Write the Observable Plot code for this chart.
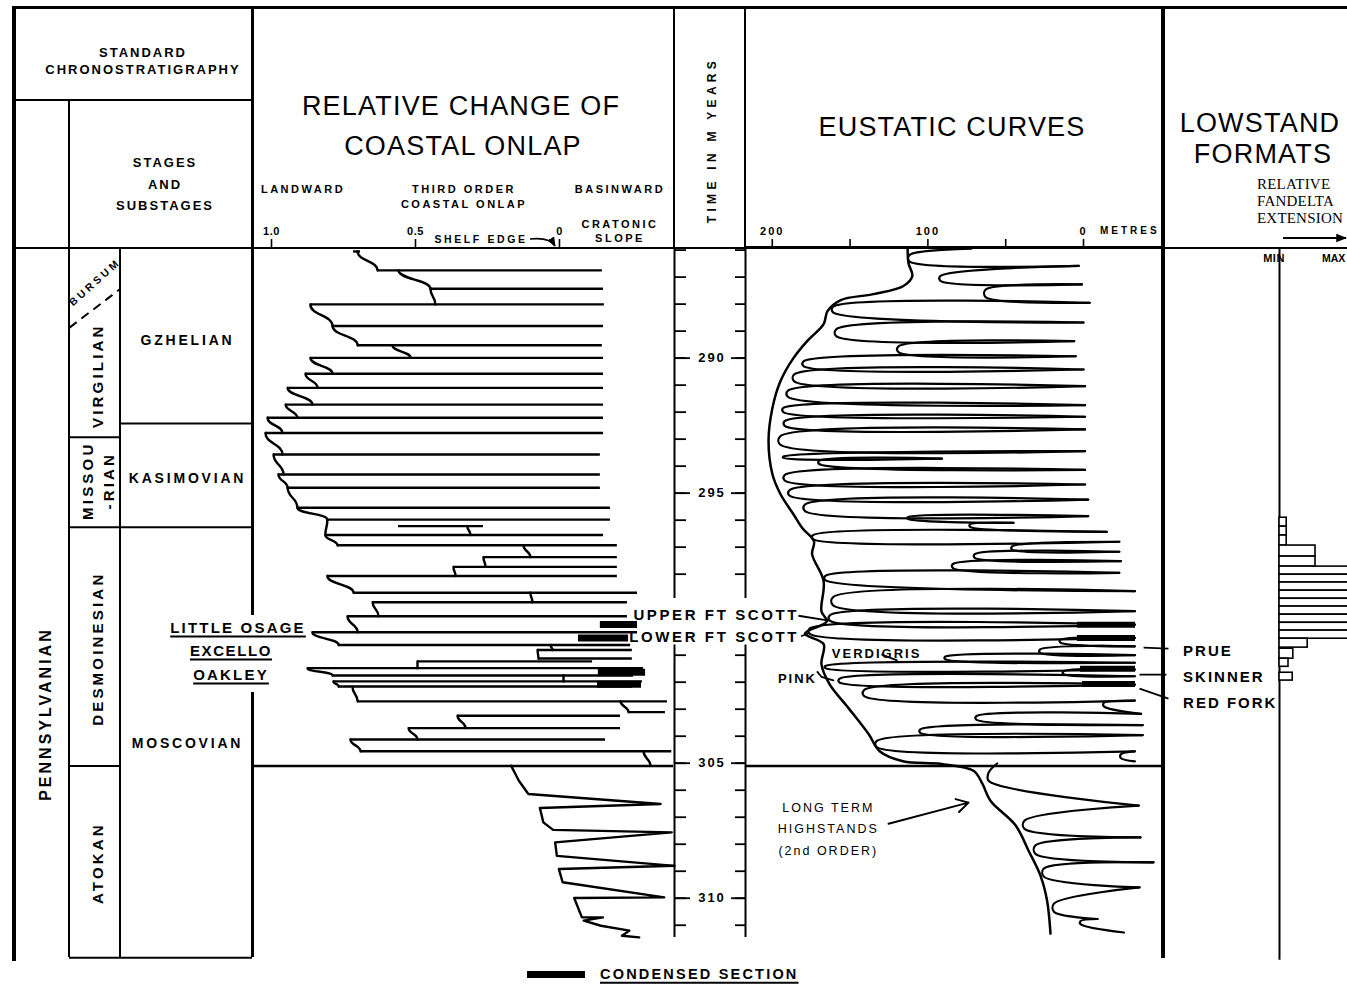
<!DOCTYPE html>
<html>
<head>
<meta charset="utf-8">
<script src="https://cdn.jsdelivr.net/npm/d3@7"></script>
<script src="https://cdn.jsdelivr.net/npm/@observablehq/plot@0.6"></script>
<style>
  html, body { margin: 0; padding: 0; background: #fff; overflow: hidden; }
  #chart { position: relative; width: 1347px; height: 985px; overflow: hidden; background: #fff;
           font-family: "Liberation Sans", Arial, Helvetica, sans-serif; color: #000; }
  .ln { position: absolute; background: #000; }
  .tx { position: absolute; white-space: nowrap; line-height: 1; }
  .panel { position: absolute; }
  .panel svg { display: block; }
</style>
</head>
<body>
<div id="chart"></div>
<script>
// ================= DATA =================
// time scale (Ma), shared by every column
const timeDomain = [285.94, 312.38];
const timeTicks = [286,287,288,289,290,291,292,293,294,295,296,297,298,301,302,303,304,305,306,307,308,309,310,311];
const timeLabels = [290, 295, 305, 310];
const timeAxisSpans = [[285.94, 298.9], [300.62, 311.45]];

// standard chronostratigraphy
const systemNames = ["PENNSYLVANIAN"];
const systemLabelAt = [303.18];
const seriesNames = ["VIRGILIAN", "MISSOU\n-RIAN", "DESMOINESIAN", "ATOKAN"];
const seriesLabelAt = [290.65, 294.54, 300.76, 308.7];
const seriesBase = [292.93, 296.26, 305.1, 312.2];
const substageName = "BURSUM";
const substageLabelAt = 287.19;
const bursumBase = [288.87, 287.43];          // western / eastern end of the dashed boundary
const stageNames = ["GZHELIAN", "KASIMOVIAN", "MOSCOVIAN"];
const stageLabelAt = [289.35, 294.46, 304.28];
const stageBase = [292.42, 296.26, 312.2];

// relative change of coastal onlap (1.0 landward ... 0 shelf edge ... negative = cratonic slope)
const onlapTicks = [1, 0.5, 0];
const onlapTime  = [286.05,286.75,287.43,288.01,288.81,289.52,289.99,290.58,291.10,291.72,292.21,292.77,293.57,294.31,294.80,295.54,295.98,296.22,296.55,296.93,297.37,297.73,298.07,298.69,299.04,299.56,300.15,300.62,300.81,301.12,301.23,301.48,301.75,301.97,302.16,302.71,303.11,303.24,303.70,304.12,304.56];
const onlapLeft  = [0.715,0.632,0.448,0.865,0.788,0.701,0.865,0.882,0.944,0.951,1.014,1.021,0.993,0.976,0.944,0.910,0.806,0.559,0.813,0.771,0.264,0.368,0.806,0.715,0.649,0.736,0.858,0.767,0.076,0.073,0.493,0.875,0.788,0.785,0.767,0.701,-0.240,0.354,0.524,0.726,0.691];
const onlapRight = [0.691,-0.149,-0.153,-0.156,-0.153,-0.149,-0.153,-0.153,-0.153,-0.153,-0.153,-0.153,-0.142,-0.142,-0.142,-0.177,-0.177,0.264,-0.153,-0.201,-0.201,-0.201,-0.201,-0.271,-0.236,-0.236,-0.271,-0.247,-0.253,-0.253,-0.115,-0.292,-0.257,-0.288,-0.253,-0.375,-0.368,-0.212,-0.212,-0.160,-0.390];
const onlapStepFrom = [0.701,0.559,0.448,0.865,0.788,0.580,0.865,0.882,0.944,0.951,1.014,1.021,0.993,0.976,0.944,0.910,0.806,0.320,0.813,0.125,0.264,0.368,0.806,0.101,0.649,0.736,0.858,0.031,0.076,null,0.493,0.875,-0.014,0.785,0.719,-0.212,null,0.354,0.524,0.726,-0.292];
const onlapStepTo   = [0.632,0.448,0.431,0.788,0.701,0.517,0.788,0.840,0.858,0.910,0.962,0.962,0.958,0.944,0.910,0.806,0.813,0.309,0.771,0.101,0.257,0.361,0.715,0.094,0.628,0.701,0.767,0.024,0.073,null,0.493,0.788,-0.014,0.767,0.701,-0.240,null,0.326,0.493,0.691,-0.316];
const onlapLowerTime  = [305.09,305.65,306.14,306.51,306.66,307.19,307.47,307.56,307.93,308.43,308.8,308.92,309.41,309.97,309.99,310.71,310.71,310.83,311.02,311.2,311.39,311.45];
const onlapLowerValue = [0.168,0.141,0.108,-0.351,0.068,0.056,0.022,-0.39,0.015,0.009,-0.40,0.002,-0.011,-0.364,-0.051,-0.078,-0.151,-0.084,-0.144,-0.243,-0.217,-0.277];
const onlapCondTime = [299.86, 300.36, 301.63, 302.08];
const onlapCondFrom = [-0.142, -0.066, -0.135, -0.132];
const onlapCondTo   = [-0.271, -0.240, -0.299, -0.285];

// eustatic curves (metres)
const eusTicks = [200, 150, 100, 50, 0];
const eusTickLabels = [200, 100, 0];
const eusUpperTime = [285.95,286.3,286.58,287.05,287.27,287.6,287.95,288.2,288.68,289.06,289.37,289.67,289.93,290.21,290.42,290.73,291.04,291.32,291.74,291.92,292.17,292.42,292.64,293.05,293.44,293.67,293.72,293.86,294.14,294.43,294.68,294.99,295.24,295.54,295.85,295.92,296.1,296.2,296.43,296.63,296.8,297.03,297.17,297.33,297.52,297.7,297.95,298.14,298.63,299.0,299.37,299.62,299.87,300.11,300.36,300.48,300.67,300.85,301.0,301.1,301.28,301.44,301.53,301.65,301.78,301.94,302.09,302.4,302.68,302.83,303.17,303.32,303.59,303.81,303.96,304.29,304.56,304.74,304.93];
const eusUpperMetres = [72,112,3,92,1,63,-4,161,0,159,6,119,5,180,0,186,-1,190,-1,193,-1,192,-1,195,-1,193,91,170,-1,192,-1,189,-3,179,-3,113,45,73,-15,174,-23,46,-23,70,-24,84,-23,166,-33,161,-33,163,-33,176,-33,15,-33,28,-33,89,-33,166,-33,13,-33,157,-33,141,-33,-13,-37,69,-38,105,-38,133,-33,-24,-33];
const eusLowerTime   = [305.01,305.5,306.57,307.28,307.75,308.2,308.67,309.05,309.6,310.35,310.77,310.9,311.27];
const eusLowerMetres = [55.5,61,-35.5,38,-36.6,31,-45,25.5,-36,19,-9,2,-26];
const eusEnvTime   = [285.94,286.48,286.96,287.33,287.63,287.85,288.26,288.74,289.37,290.0,290.85,291.85,293.07,294.3,295.04,295.78,296.3,296.78,297.26,298.26,299.37,299.75,300.2,300.59,301.33,302.07,302.96,303.93,304.56,304.93,305.03,305.28,305.76,306.39,307.3,308.24,309.17,310.09,311.31];
const eusEnvMetres = [113,112.5,110,115.7,135,156,164.5,167,177.6,186.4,194.7,199.9,202.4,199.9,194.7,186.4,180.6,173.2,174.4,167,168.4,165,179,167,168.4,163.2,151,138,131,116,91.3,70.7,65,59.8,43.7,35.3,27.6,23.4,21.2];
const eusCondTime = [299.87, 300.36, 301.5, 302.07];
const eusCondFrom = [3.9, 3.9, 1.9, 0.6];
const eusCondTo   = [-33.4, -33.4, -33.4, -33.4];
const eusLabelNames  = ["VERDIGRIS", "PINK"];
const eusLabelTime   = [300.94, 301.87];
const eusLabelMetres = [133, 183.8];
const highstandNote = "LONG TERM\nHIGHSTANDS\n(2nd ORDER)";
const highstandNoteAt = [164, 307.35];
const highstandArrow = [125.3, 307.24, 73.9, 306.46];
const scottLeaders = [[183.2, 299.54, 163.5, 299.72], [181.5, 300.3, 177, 300.2]];
const verdigrisLeader = [129.8, 300.97, 119.5, 301.2];
const pinkBracketMetres = [171, 168.4, 160.7];
const pinkBracketTime = [301.62, 301.8, 301.93];
const markerNames = ["PRUE", "SKINNER", "RED FORK"];
const markerTime  = [300.87, 301.8, 302.76];
const markerLeaders = [[-38.6, 300.72, -54.6, 300.76], [-36, 301.72, -53.3, 301.72], [-36, 302.24, -54.6, 302.61]];

// lowstand fan delta extension (0 = MIN, 1 = MAX)
const fanTop    = [295.91,296.24,296.57,296.94,297.35,297.72,298.02,298.31,298.61,298.91,299.2,299.5,299.8,300.09,300.39,300.76,301.13,301.65];
const fanBase   = [296.24,296.57,296.94,297.35,297.72,298.02,298.31,298.61,298.91,299.2,299.5,299.8,300.09,300.39,300.72,301.13,301.43,301.94];
const fanExtent = [0.12,0.12,0.12,0.6,0.6,1.3,1.3,1.3,1.3,1.3,1.3,1.3,1.3,1.3,0.47,0.23,0.15,0.22];

// ================= LAYOUT HELPERS =================
const chart = document.getElementById("chart");
const svgStyle = ls => `background:transparent;overflow:visible;max-width:none;font-family:'Liberation Sans',Arial,Helvetica,sans-serif;letter-spacing:${ls}px;color:#000;`;
function mount(svg, left, top) {
  const d = document.createElement("div");
  d.className = "panel"; d.style.left = left + "px"; d.style.top = top + "px";
  d.appendChild(svg); chart.appendChild(d);
}
function rect(x, y, w, h) {
  const d = document.createElement("div");
  d.className = "ln";
  Object.assign(d.style, {left: x + "px", top: y + "px", width: w + "px", height: h + "px"});
  chart.appendChild(d);
}
function label(str, x, y, o = {}) {
  const d = document.createElement("div");
  d.className = "tx"; d.textContent = str;
  const s = d.style;
  s.left = x + "px"; s.top = y + "px";
  s.fontSize = (o.size || 12) + "px";
  s.fontWeight = o.weight || "bold";
  if (o.ls != null) s.letterSpacing = o.ls + "px";
  if (o.family) s.fontFamily = o.family;
  const ax = o.anchor === "start" ? "0" : o.anchor === "end" ? "-100%" : "-50%";
  s.transform = `translate(${ax}, -50%)` + (o.rotate ? ` rotate(${o.rotate}deg)` : "");
  if (o.underline) { s.textDecoration = "underline"; s.textDecorationThickness = "2px"; s.textUnderlineOffset = "3px"; }
  chart.appendChild(d);
}

// ================= TABLE FRAME =================
rect(12, 6, 1335, 3);          // top
rect(12, 6, 4, 955);           // left
rect(12, 99, 241, 2);          // chronostratigraphy box
rect(68, 99, 2, 858);
rect(119, 248, 2, 709);
rect(251, 6, 2.5, 609); rect(251, 692, 2.5, 265);
rect(673, 6, 2, 243);
rect(744, 6, 2, 243);
rect(1161, 6, 4, 952);
rect(12, 247, 1335, 2);
rect(745, 246, 418, 3);

// ================= HEADER TEXT =================
label("STANDARD", 143, 52, {size: 13, ls: 2});
label("CHRONOSTRATIGRAPHY", 143, 69, {size: 13, ls: 2});
label("STAGES", 165, 162, {size: 13, ls: 2});
label("AND", 165, 184, {size: 13, ls: 2});
label("SUBSTAGES", 165, 205, {size: 13, ls: 2});
label("RELATIVE CHANGE OF", 461, 106, {size: 27, weight: "normal", ls: 1.2});
label("COASTAL ONLAP", 463, 146, {size: 27, weight: "normal", ls: 1.2});
label("LANDWARD", 303, 189, {size: 11, ls: 2.5});
label("THIRD ORDER", 464, 189, {size: 11, ls: 2.5});
label("COASTAL ONLAP", 464, 204, {size: 11, ls: 2.5});
label("BASINWARD", 620, 189, {size: 11, ls: 2.5});
label("CRATONIC", 620, 224, {size: 11, ls: 2.5});
label("SLOPE", 620, 238, {size: 11, ls: 2.5});
label("SHELF EDGE", 481, 239, {size: 10.5, ls: 2.6});
label("TIME IN M YEARS", 712, 140, {size: 12, ls: 4.3, rotate: -90});
label("EUSTATIC CURVES", 952, 127, {size: 27, weight: "normal", ls: 1.2});
label("METRES", 1100, 231, {size: 10, ls: 3, anchor: "start"});
label("LOWSTAND", 1260, 123, {size: 27, weight: "normal", ls: 1.2});
label("FORMATS", 1263, 154, {size: 27, weight: "normal", ls: 1.2});
const serif = "'Liberation Serif','DejaVu Serif',serif";
label("RELATIVE", 1257, 184, {size: 15, weight: "normal", family: serif, anchor: "start", ls: 0.2});
label("FANDELTA", 1257, 201, {size: 15, weight: "normal", family: serif, anchor: "start", ls: 0.2});
label("EXTENSION", 1257, 218, {size: 15, weight: "normal", family: serif, anchor: "start", ls: 0.2});
label("MIN", 1274, 258, {size: 11, ls: 0.5});
label("MAX", 1322, 258, {size: 10.5, ls: 0, anchor: "start"});

// decorative header arrows
chart.insertAdjacentHTML("beforeend", `<svg width="1347" height="985" style="position:absolute;left:0;top:0;pointer-events:none">
<defs><marker id="ah" viewBox="0 0 10 10" refX="9" refY="5" markerWidth="6" markerHeight="6" orient="auto"><path d="M0,1 L10,5 L0,9 z"/></marker></defs>
<path d="M530,239 Q550,237 555,246" fill="none" stroke="#000" stroke-width="1.6" marker-end="url(#ah)"/>
<line x1="1283" y1="238" x2="1346" y2="238" stroke="#000" stroke-width="1.8" marker-end="url(#ah)"/>
</svg>`);

// ================= STRATIGRAPHY COLUMNS =================
mount(Plot.plot({
  width: 56, height: 714, margin: 0, style: svgStyle(3),
  y: {domain: timeDomain, range: [0, 714], axis: null},
  marks: [
    Plot.text(systemNames, {y: (d, i) => systemLabelAt[i], text: d => d, rotate: -90, frameAnchor: "middle", dx: 4, fontSize: 16, fontWeight: "bold", fill: "black"})
  ]
}), 13, 248);

mount(Plot.plot({
  width: 51, height: 714, margin: 0, style: svgStyle(3.2),
  x: {type: "point", domain: ["west", "east"], padding: 0, axis: null},
  y: {domain: timeDomain, range: [0, 714], axis: null},
  marks: [
    Plot.ruleY(seriesBase, {strokeWidth: 2}),
    Plot.link([bursumBase], {x1: () => "west", y1: d => d[0], x2: () => "east", y2: d => d[1], strokeWidth: 2, strokeDasharray: "9,6"}),
    Plot.text([substageName], {y: () => substageLabelAt, text: d => d, rotate: -42, frameAnchor: "middle", fontSize: 10.5, fontWeight: "bold", fill: "black"}),
    Plot.text(seriesNames, {y: (d, i) => seriesLabelAt[i], text: d => d, rotate: -90, frameAnchor: "middle", dx: 2, fontSize: 15, fontWeight: "bold", lineHeight: 1.35, fill: "black"})
  ]
}), 69, 248);

mount(Plot.plot({
  width: 132, height: 714, margin: 0, style: svgStyle(2.8),
  y: {domain: timeDomain, range: [0, 714], axis: null},
  marks: [
    Plot.ruleY(stageBase, {strokeWidth: 2}),
    Plot.text(stageNames, {y: (d, i) => stageLabelAt[i], text: d => d, frameAnchor: "middle", dx: 1, fontSize: 14, fontWeight: "bold", fill: "black"})
  ]
}), 120, 248);

// ================= COASTAL ONLAP =================
const onlapLines = onlapTime.map((t, i) => ({t, L: onlapLeft[i], R: onlapRight[i]}));
const profileRows = [];
onlapTime.forEach((t, i) => {
  const s = onlapStepFrom[i], p = onlapStepTo[i];
  if (s == null) return;
  let tn = seriesBase[2];
  for (let j = i + 1; j < onlapTime.length; j++) {
    if (onlapLeft[j] + 0.005 >= p && onlapRight[j] - 0.005 <= p) { tn = onlapTime[j]; break; }
  }
  profileRows.push({id: i, x: s, t}, {id: i, x: p, t: tn});
});
const onlapLowerRows = onlapLowerTime.map((t, i) => ({t, x: onlapLowerValue[i]}));
const onlapCond = onlapCondTime.map((t, i) => ({t, a: onlapCondFrom[i], b: onlapCondTo[i]}));

mount(Plot.plot({
  width: 421, height: 744, marginTop: 30, marginBottom: 0, marginLeft: 0, marginRight: 0,
  style: svgStyle(0.5),
  x: {domain: [1.066, -0.396], label: null},
  y: {domain: timeDomain, range: [30, 744], axis: null},
  marks: [
    Plot.axisX({anchor: "top", ticks: onlapTicks, tickFormat: d => d === 0 ? "0" : d.toFixed(1), tickSize: 10, tickPadding: 4, fontSize: 11, fontWeight: "bold", strokeWidth: 1.6, label: null}),
    Plot.ruleY([seriesBase[2]], {strokeWidth: 2.5}),
    Plot.ruleY(onlapLines, {y: "t", x1: "L", x2: "R", strokeWidth: 2.4}),
    Plot.line(profileRows, {x: "x", y: "t", z: "id", curve: "bump-y", strokeWidth: 2.4}),
    Plot.line(onlapLowerRows, {x: "x", y: "t", strokeWidth: 2.4}),
    Plot.ruleY(onlapCond, {y: "t", x1: "a", x2: "b", strokeWidth: 7, strokeLinecap: "butt"})
  ]
}), 252, 218);

// ================= TIME AXIS =================
const axisSegs = ["L", "R"].flatMap(side => timeAxisSpans.map(([t1, t2]) => ({side, t1, t2})));
mount(Plot.plot({
  width: 73, height: 714, marginTop: 0, marginBottom: 0, marginLeft: 1, marginRight: 1,
  style: svgStyle(2),
  x: {type: "point", domain: ["L", "R"], padding: 0, axis: null},
  y: {domain: timeDomain, range: [0, 714], axis: null},
  marks: [
    Plot.ruleX(axisSegs, {x: "side", y1: "t1", y2: "t2", strokeWidth: 2}),
    Plot.tickY(timeTicks, {y: d => d, insetRight: 59, strokeWidth: 1.8}),
    Plot.tickY(timeTicks, {y: d => d, insetLeft: 61, strokeWidth: 1.8}),
    Plot.tickY(timeLabels, {y: d => d, insetRight: 55, strokeWidth: 1.8}),
    Plot.tickY(timeLabels, {y: d => d, insetLeft: 57, strokeWidth: 1.8}),
    Plot.text(timeLabels, {y: d => d, text: d => String(d), frameAnchor: "middle", dx: 2, fontSize: 13, fontWeight: "bold", fill: "black"})
  ]
}), 673, 248);

// ================= EUSTATIC CURVES =================
function hairpins(times, metres, id0) {
  const rows = [];
  for (let i = 1; i < times.length - 1; i += 2) {
    const ta = times[i - 1], tl = times[i], tb = times[i + 1];
    const h = Math.min(0.15, 0.4 * (tl - ta), 0.4 * (tb - tl));
    const id = id0 + i;
    rows.push({id, t: ta, m: metres[i - 1]}, {id, t: tl - h, m: metres[i]}, {id, t: tl + h, m: metres[i]}, {id, t: tb, m: metres[i + 1]});
  }
  return rows;
}
const hairRows = hairpins(eusUpperTime, eusUpperMetres, 0).concat(hairpins(eusLowerTime, eusLowerMetres, 1000));
const envRows = eusEnvTime.map((t, i) => ({t, m: eusEnvMetres[i]}));
const eusCond = eusCondTime.map((t, i) => ({t, a: eusCondFrom[i], b: eusCondTo[i]}));
const pinkRows = pinkBracketTime.map((t, i) => ({t, m: pinkBracketMetres[i]}));
const markerLabelMetres = -64;

mount(Plot.plot({
  width: 602, height: 744, marginTop: 30, marginBottom: 0, marginLeft: 0, marginRight: 184,
  style: svgStyle(2),
  x: {domain: [217.2, -51.4], label: null},
  y: {domain: timeDomain, range: [30, 744], axis: null},
  marks: [
    Plot.axisX({anchor: "top", ticks: eusTicks, tickFormat: d => eusTickLabels.includes(d) ? String(d) : "", tickSize: 10, tickPadding: 4, fontSize: 11, fontWeight: "bold", strokeWidth: 1.6, label: null}),
    Plot.ruleY([seriesBase[2]], {strokeWidth: 2.5}),
    Plot.line(envRows, {x: "m", y: "t", curve: "catmull-rom", strokeWidth: 2.5}),
    Plot.line(hairRows, {x: "m", y: "t", z: "id", curve: "catmull-rom", strokeWidth: 2.2}),
    Plot.ruleY(eusCond, {y: "t", x1: "a", x2: "b", strokeWidth: 6, strokeLinecap: "butt"}),
    Plot.text(eusLabelNames, {x: (d, i) => eusLabelMetres[i], y: (d, i) => eusLabelTime[i], text: d => d, fontSize: 13, fontWeight: "bold", fill: "black", stroke: "white", strokeWidth: 4}),
    Plot.link(scottLeaders.concat([verdigrisLeader]), {x1: d => d[0], y1: d => d[1], x2: d => d[2], y2: d => d[3], strokeWidth: 1.8}),
    Plot.line(pinkRows, {x: "m", y: "t", strokeWidth: 1.8}),
    Plot.text([highstandNote], {x: () => highstandNoteAt[0], y: () => highstandNoteAt[1], text: d => d, fontSize: 12.5, lineHeight: 1.7, fill: "black", stroke: "white", strokeWidth: 3}),
    Plot.arrow([highstandArrow], {x1: d => d[0], y1: d => d[1], x2: d => d[2], y2: d => d[3], strokeWidth: 2, headLength: 10}),
    Plot.link(markerLeaders, {x1: d => d[0], y1: d => d[1], x2: d => d[2], y2: d => d[3], strokeWidth: 1.8}),
    Plot.text(markerNames, {x: () => markerLabelMetres, y: (d, i) => markerTime[i], text: d => d, textAnchor: "start", fontSize: 15, fontWeight: "bold", fill: "black"})
  ]
}), 745, 218);

// ================= LOWSTAND FAN DELTA =================
const fanRows = fanTop.map((t, i) => ({t1: t, t2: fanBase[i], e: fanExtent[i]}));
mount(Plot.plot({
  width: 184, height: 714, margin: 0, style: svgStyle(0),
  x: {domain: [-1.933, 1.133], axis: null},
  y: {domain: timeDomain, range: [0, 714], axis: null},
  marks: [
    Plot.ruleX([0], {y1: timeDomain[0], y2: 312.3, strokeWidth: 2}),
    Plot.rect(fanRows, {x1: 0, x2: "e", y1: "t1", y2: "t2", fill: "white", stroke: "black", strokeWidth: 1.6})
  ]
}), 1163, 248);

// ================= ANNOTATIONS =================
label("LITTLE OSAGE", 238, 627, {size: 15, ls: 2.2, underline: true});
label("EXCELLO", 231, 650, {size: 15, ls: 1.6, underline: true});
label("OAKLEY", 231, 674, {size: 15, ls: 2.2, underline: true});
label("UPPER FT SCOTT", 799, 614, {size: 15, ls: 2.6, anchor: "end"});
label("LOWER FT SCOTT", 799, 636, {size: 15, ls: 2.6, anchor: "end"});

// legend
rect(527, 971, 58, 7);
label("CONDENSED SECTION", 600, 974, {size: 14.5, ls: 2.2, anchor: "start", underline: true});
</script>
</body>
</html>
